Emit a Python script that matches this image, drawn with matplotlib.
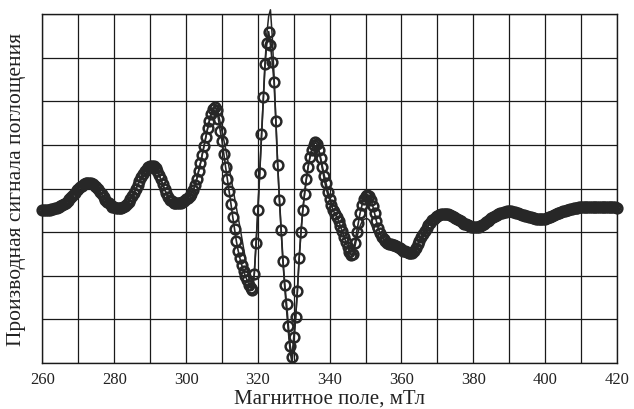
import numpy as np
import matplotlib
matplotlib.use("Agg")
import matplotlib.pyplot as plt

plt.rcParams['font.family'] = ['Liberation Serif', 'DejaVu Serif']

# Field values in mT (start, step) and measured / calculated derivative signal (grid units 0..8)
field_start = 260.0
field_step = 0.5

experiment = [
    3.51, 3.51, 3.51, 3.52, 3.52, 3.53, 3.54, 3.55, 3.56, 3.58,   # 260
    3.60, 3.62, 3.65, 3.68, 3.72, 3.76, 3.81, 3.86, 3.91, 3.96,   # 265
    4.00, 4.04, 4.07, 4.10, 4.12, 4.13, 4.13, 4.12, 4.10, 4.07,   # 270
    4.03, 3.98, 3.93, 3.87, 3.81, 3.75, 3.70, 3.66, 3.62, 3.59,   # 275
    3.57, 3.56, 3.55, 3.55, 3.56, 3.58, 3.61, 3.65, 3.70, 3.76,   # 280
    3.83, 3.91, 3.99, 4.08, 4.17, 4.26, 4.34, 4.41, 4.46, 4.50,   # 285
    4.51, 4.52, 4.51, 4.47, 4.40, 4.31, 4.21, 4.10, 3.99, 3.89,   # 290
    3.81, 3.75, 3.71, 3.68, 3.67, 3.66, 3.66, 3.67, 3.69, 3.72,   # 295
    3.76, 3.79, 3.83, 3.88, 3.96, 4.08, 4.23, 4.40, 4.58, 4.78,   # 300
    4.98, 5.18, 5.38, 5.56, 5.71, 5.82, 5.87, 5.80, 5.60, 5.33,   # 305
    5.10, 4.80, 4.50, 4.22, 3.95, 3.65, 3.35, 3.07, 2.80, 2.58,   # 310
    2.40, 2.25, 2.12, 2.00, 1.90, 1.80, 1.72, 1.68, 2.05, 2.75,   # 315
    3.50, 4.35, 5.25, 6.10, 6.85, 7.35, 7.60, 7.30, 6.90, 6.45,   # 320
    5.55, 4.55, 3.75, 3.05, 2.35, 1.80, 1.35, 0.85, 0.40, 0.15,   # 325
    0.60, 1.05, 1.65, 2.40, 3.00, 3.50, 3.88, 4.22, 4.50, 4.72,   # 330
    4.88, 5.00, 5.06, 5.02, 4.88, 4.70, 4.50, 4.30, 4.12, 3.93,   # 335
    3.76, 3.62, 3.50, 3.42, 3.35, 3.26, 3.14, 3.02, 2.90, 2.78,   # 340
    2.67, 2.55, 2.47, 2.50, 2.75, 3.00, 3.22, 3.45, 3.62, 3.76,   # 345
    3.83, 3.86, 3.84, 3.75, 3.60, 3.44, 3.26, 3.10, 2.98, 2.90,   # 350
    2.84, 2.79, 2.76, 2.74, 2.72, 2.71, 2.70, 2.68, 2.66, 2.64,   # 355
    2.61, 2.58, 2.56, 2.54, 2.52, 2.52, 2.53, 2.57, 2.64, 2.72,   # 360
    2.80, 2.88, 2.95, 3.02, 3.09, 3.16, 3.22, 3.27, 3.31, 3.34,   # 365
    3.37, 3.39, 3.41, 3.42, 3.42, 3.42, 3.41, 3.39, 3.37, 3.35,   # 370
    3.33, 3.30, 3.28, 3.25, 3.22, 3.20, 3.18, 3.16, 3.14, 3.13,   # 375
    3.12, 3.12, 3.12, 3.13, 3.15, 3.17, 3.20, 3.23, 3.26, 3.29,   # 380
    3.32, 3.35, 3.38, 3.40, 3.42, 3.44, 3.45, 3.46, 3.47, 3.48,   # 385
    3.48, 3.48, 3.47, 3.46, 3.44, 3.43, 3.41, 3.40, 3.39, 3.38,   # 390
    3.37, 3.35, 3.34, 3.33, 3.32, 3.31, 3.30, 3.30, 3.30, 3.30,   # 395
    3.31, 3.32, 3.34, 3.36, 3.38, 3.40, 3.42, 3.43, 3.44, 3.46,   # 400
    3.48, 3.49, 3.51, 3.52, 3.53, 3.54, 3.55, 3.56, 3.56, 3.57,   # 405
    3.57, 3.58, 3.58, 3.58, 3.59, 3.59, 3.59, 3.59, 3.59, 3.59,   # 410
    3.59, 3.58, 3.58, 3.58, 3.58, 3.57, 3.57, 3.57, 3.57, 3.57,   # 415
    3.56,                                                         # 420
]

theory = [
    3.51, 3.51, 3.51, 3.52, 3.52, 3.53, 3.54, 3.55, 3.56, 3.58,   # 260
    3.60, 3.62, 3.65, 3.68, 3.72, 3.76, 3.81, 3.86, 3.91, 3.96,   # 265
    4.00, 4.04, 4.07, 4.10, 4.12, 4.13, 4.13, 4.12, 4.10, 4.07,   # 270
    4.03, 3.98, 3.93, 3.87, 3.81, 3.75, 3.70, 3.66, 3.62, 3.59,   # 275
    3.57, 3.56, 3.55, 3.55, 3.56, 3.58, 3.61, 3.65, 3.70, 3.76,   # 280
    3.83, 3.91, 3.99, 4.08, 4.17, 4.26, 4.34, 4.41, 4.46, 4.50,   # 285
    4.51, 4.52, 4.51, 4.47, 4.40, 4.31, 4.21, 4.10, 3.99, 3.89,   # 290
    3.79, 3.72, 3.67, 3.63, 3.61, 3.60, 3.61, 3.63, 3.66, 3.70,   # 295
    3.75, 3.79, 3.83, 3.88, 3.96, 4.08, 4.23, 4.40, 4.58, 4.78,   # 300
    4.98, 5.18, 5.38, 5.56, 5.71, 5.82, 5.87, 5.84, 5.72, 5.52,   # 305
    5.32, 5.12, 4.92, 4.70, 4.48, 4.25, 4.02, 3.80, 3.57, 3.34,   # 310
    3.12, 2.88, 2.64, 2.40, 2.16, 1.94, 1.78, 1.68, 2.05, 2.75,   # 315
    3.50, 4.35, 5.25, 6.10, 6.90, 7.55, 7.95, 8.10, 7.50, 6.60,   # 320
    5.60, 4.60, 3.75, 3.00, 2.30, 1.70, 1.20, 0.70, 0.25, 0.00,   # 325
    0.45, 1.00, 1.65, 2.40, 3.00, 3.50, 3.88, 4.22, 4.50, 4.72,   # 330
    4.88, 5.00, 5.06, 5.02, 4.86, 4.65, 4.42, 4.20, 4.00, 3.85,   # 335
    3.75, 3.68, 3.64, 3.61, 3.58, 3.54, 3.44, 3.30, 3.18, 3.05,   # 340
    2.82, 2.60, 2.48, 2.52, 2.65, 2.85, 3.02, 3.15, 3.24, 3.29,   # 345
    3.31, 3.31, 3.28, 3.20, 3.10, 3.00, 2.92, 2.86, 2.82, 2.80,   # 350
    2.79, 2.77, 2.76, 2.74, 2.72, 2.71, 2.70, 2.68, 2.66, 2.64,   # 355
    2.61, 2.58, 2.56, 2.54, 2.52, 2.52, 2.53, 2.57, 2.64, 2.72,   # 360
    2.80, 2.88, 2.95, 3.02, 3.09, 3.16, 3.22, 3.27, 3.31, 3.34,   # 365
    3.37, 3.39, 3.41, 3.42, 3.42, 3.42, 3.41, 3.39, 3.37, 3.35,   # 370
    3.33, 3.30, 3.28, 3.25, 3.22, 3.20, 3.18, 3.16, 3.14, 3.13,   # 375
    3.12, 3.12, 3.12, 3.13, 3.15, 3.17, 3.20, 3.23, 3.26, 3.29,   # 380
    3.32, 3.35, 3.38, 3.40, 3.42, 3.44, 3.45, 3.46, 3.47, 3.48,   # 385
    3.48, 3.48, 3.47, 3.46, 3.44, 3.43, 3.41, 3.40, 3.39, 3.38,   # 390
    3.37, 3.35, 3.34, 3.33, 3.32, 3.31, 3.30, 3.30, 3.30, 3.30,   # 395
    3.31, 3.32, 3.34, 3.36, 3.38, 3.40, 3.42, 3.43, 3.44, 3.46,   # 400
    3.48, 3.49, 3.51, 3.52, 3.53, 3.54, 3.55, 3.56, 3.56, 3.57,   # 405
    3.57, 3.58, 3.58, 3.58, 3.59, 3.59, 3.59, 3.59, 3.59, 3.59,   # 410
    3.59, 3.58, 3.58, 3.58, 3.58, 3.57, 3.57, 3.57, 3.57, 3.57,   # 415
    3.56,                                                         # 420
]

x_ticks = [260, 280, 300, 320, 340, 360, 380, 400, 420]
x_label = "Магнитное поле, мТл"
y_label = "Производная сигнала поглощения"

field = field_start + field_step * np.arange(len(experiment))
field_t = field_start + field_step * np.arange(len(theory))

fig = plt.figure(figsize=(6.34, 4.10), dpi=100)
ax = fig.add_axes([0.067, 0.112, 0.906, 0.851])

ink = '#272727'
ax.plot(field_t, theory, '-', color=ink, lw=1.1, zorder=2, clip_on=False)
ax.plot(field, experiment, '-', color=ink, lw=1.2, marker='o', ms=7.0,
        mfc='none', mec=ink, mew=1.8, zorder=3, clip_on=False)

ax.set_xlim(260, 420)
ax.set_ylim(0, 8)
ax.set_xticks(np.arange(260, 421, 10), minor=False)
ax.set_xticklabels([str(v) if v in x_ticks else '' for v in range(260, 421, 10)])
ax.set_yticks(np.arange(0, 9, 1))
ax.set_yticklabels([])
ax.tick_params(axis='both', length=0, labelsize=12, colors='#222222', pad=6)
ax.grid(True, color='#1a1a1a', lw=0.9)
ax.set_axisbelow(True)
for s in ax.spines.values():
    s.set_color('#1a1a1a')
    s.set_linewidth(1.0)

ax.set_xlabel(x_label, fontsize=15, color='#222222', labelpad=1)
ax.set_ylabel(y_label, fontsize=15.5, color='#222222', labelpad=6)

fig.savefig("out.png", dpi=100, facecolor='white')
